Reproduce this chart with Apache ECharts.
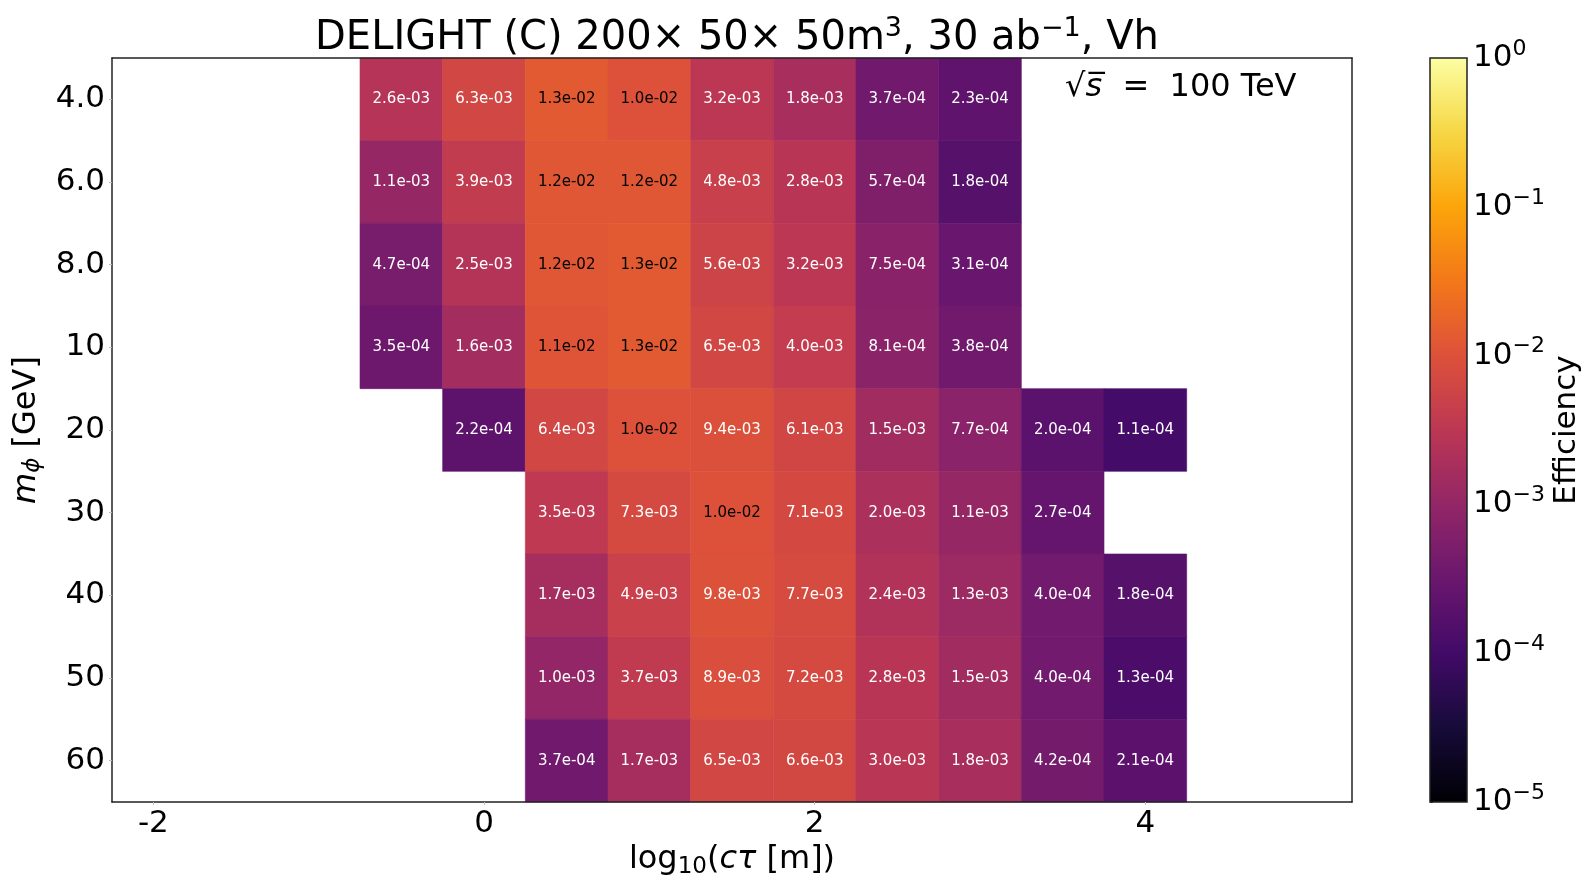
<!DOCTYPE html>
<html>
<head>
<meta charset="utf-8">
<script src="https://cdn.jsdelivr.net/npm/echarts@6/dist/echarts.min.js"></script>
<style>
html,body{margin:0;padding:0;background:#fff;}
#chart{width:1595px;height:890px;}
</style>
</head>
<body>
<div id="chart"></div>
<script>
// ---- data ----
const massLabels = ['4.0', '6.0', '8.0', '10', '20', '30', '40', '50', '60'];
const logCtau = [-0.5, 0.0, 0.5, 1.0, 1.5, 2.0, 2.5, 3.0, 3.5, 4.0];
const eff_m4  = [2.6e-3, 6.3e-3, 1.3e-2, 1.0e-2, 3.2e-3, 1.8e-3, 3.7e-4, 2.3e-4, null, null];
const eff_m6  = [1.1e-3, 3.9e-3, 1.2e-2, 1.2e-2, 4.8e-3, 2.8e-3, 5.7e-4, 1.8e-4, null, null];
const eff_m8  = [4.7e-4, 2.5e-3, 1.2e-2, 1.3e-2, 5.6e-3, 3.2e-3, 7.5e-4, 3.1e-4, null, null];
const eff_m10 = [3.5e-4, 1.6e-3, 1.1e-2, 1.3e-2, 6.5e-3, 4.0e-3, 8.1e-4, 3.8e-4, null, null];
const eff_m20 = [null, 2.2e-4, 6.4e-3, 1.0e-2, 9.4e-3, 6.1e-3, 1.5e-3, 7.7e-4, 2.0e-4, 1.1e-4];
const eff_m30 = [null, null, 3.5e-3, 7.3e-3, 1.0e-2, 7.1e-3, 2.0e-3, 1.1e-3, 2.7e-4, null];
const eff_m40 = [null, null, 1.7e-3, 4.9e-3, 9.8e-3, 7.7e-3, 2.4e-3, 1.3e-3, 4.0e-4, 1.8e-4];
const eff_m50 = [null, null, 1.0e-3, 3.7e-3, 8.9e-3, 7.2e-3, 2.8e-3, 1.5e-3, 4.0e-4, 1.3e-4];
const eff_m60 = [null, null, 3.7e-4, 1.7e-3, 6.5e-3, 6.6e-3, 3.0e-3, 1.8e-3, 4.2e-4, 2.1e-4];
const effRows = [eff_m4, eff_m6, eff_m8, eff_m10, eff_m20, eff_m30, eff_m40, eff_m50, eff_m60];
const xTickValues = [-2, 0, 2, 4];
const colorbarLogRange = [-5, 0];

// ---- inferno colormap ----
const inferno = ['#000004','#160b39','#420a68','#6a176e','#932667','#bc3754','#dd513a','#f37819','#fca50a','#f6d746','#fcffa4'];
function hex2rgb(h){return [parseInt(h.substr(1,2),16),parseInt(h.substr(3,2),16),parseInt(h.substr(5,2),16)];}
const infRGB = inferno.map(hex2rgb);
function cmap(t){
  t = Math.max(0, Math.min(1, t));
  const f = t * (infRGB.length - 1);
  const i = Math.min(Math.floor(f), infRGB.length - 2);
  const r = f - i;
  const a = infRGB[i], b = infRGB[i + 1];
  return 'rgb(' + a.map((v, k) => Math.round(v + (b[k] - v) * r)).join(',') + ')';
}
function colorOf(v){
  const lv = Math.log10(v);
  return cmap((lv - colorbarLogRange[0]) / (colorbarLogRange[1] - colorbarLogRange[0]));
}
function fmt(v){
  let e = Math.floor(Math.log10(v));
  let ms = (v / Math.pow(10, e)).toFixed(1);
  if (parseFloat(ms) >= 10) { e += 1; ms = (v / Math.pow(10, e)).toFixed(1); }
  const sign = e < 0 ? '-' : '+';
  const ae = Math.abs(e);
  return ms + 'e' + sign + (ae < 10 ? '0' : '') + ae;
}

const cellData = [];
effRows.forEach((row, yi) => {
  row.forEach((v, xi) => {
    if (v !== null) cellData.push([logCtau[xi], yi, v]);
  });
});

const FONT = 'DejaVu Sans';
const chart = echarts.init(document.getElementById('chart'), null, {renderer: 'canvas'});

function cbLabel(v){
  const e = Math.round(v);
  const s = (e < 0 ? '−' : '') + Math.abs(e);
  return '{b|10}{s|' + s + '}';
}

const option = {
  animation: false,
  backgroundColor: '#fff',
  title: [{
    text: '{t|DELIGHT (C) 200× 50× 50m}{s|3}{t|, 30 ab}{s|−1}{t|, Vh}',
    left: 732, top: 10, textAlign: 'center',
    textStyle: {
      fontWeight: 'normal',
      rich: {
        t: {fontFamily: FONT, fontSize: 40, fontWeight: 'normal', color: '#000'},
        s: {fontFamily: FONT, fontSize: 27, fontWeight: 'normal', color: '#000', padding: [0, 0, 20, 0]}
      }
    }
  }, {
    text: '{r|√}{i|s̅}{t|  =  100 TeV}',
    left: 1060, top: 67,
    textStyle: {
      fontWeight: 'normal',
      rich: {
        r: {fontFamily: FONT, fontSize: 32, fontWeight: 'normal', color: '#000'},
        i: {fontFamily: FONT, fontSize: 32, fontWeight: 'normal', fontStyle: 'italic', color: '#000'},
        t: {fontFamily: FONT, fontSize: 32, fontWeight: 'normal', color: '#000'}
      }
    }
  }],
  grid: [
    {left: 112, top: 58, width: 1240, height: 744},
    {left: 1430, top: 58, width: 37, height: 744}
  ],
  xAxis: [{
    gridIndex: 0, type: 'value', min: -2.25, max: 5.25, z: 10,
    name: '{n|log}{sub|10}{n|(}{i|cτ}{n| [m])}',
    nameLocation: 'middle', nameGap: 39,
    nameTextStyle: {
      rich: {
        n: {fontFamily: FONT, fontSize: 32, color: '#000'},
        i: {fontFamily: FONT, fontSize: 32, fontStyle: 'italic', color: '#000'},
        sub: {fontFamily: FONT, fontSize: 23, color: '#000', padding: [14, 0, 0, 0]}
      }
    },
    axisLine: {show: true, onZero: false, lineStyle: {color: '#222', width: 1.5}},
    axisTick: {show: true, length: 3, customValues: xTickValues, lineStyle: {color: '#bbb'}},
    axisLabel: {customValues: xTickValues, fontFamily: FONT, fontSize: 31, color: '#000', margin: 6,
      formatter: v => String(v)},
    splitLine: {show: false}
  }, {
    gridIndex: 0, type: 'value', min: -2.25, max: 5.25, position: 'top', z: 10,
    axisLine: {show: true, onZero: false, lineStyle: {color: '#222', width: 1.5}},
    axisTick: {show: false}, axisLabel: {show: false}, splitLine: {show: false}
  }, {
    gridIndex: 1, type: 'value', min: 0, max: 1, show: false
  }],
  yAxis: [{
    gridIndex: 0, type: 'category', data: massLabels, inverse: true, z: 10,
    name: '{i|m}{sub|ϕ}{n| [GeV]}',
    nameLocation: 'middle', nameGap: 64, nameRotate: 90,
    nameTextStyle: {
      rich: {
        n: {fontFamily: FONT, fontSize: 32, color: '#000'},
        i: {fontFamily: FONT, fontSize: 32, fontStyle: 'italic', color: '#000'},
        sub: {fontFamily: FONT, fontSize: 23, fontStyle: 'italic', color: '#000', padding: [14, 0, 0, 0]}
      }
    },
    axisLine: {show: true, onZero: false, lineStyle: {color: '#222', width: 1.5}},
    axisTick: {show: true, length: 3, alignWithLabel: true, lineStyle: {color: '#bbb'}},
    axisLabel: {fontFamily: FONT, fontSize: 31, color: '#000', margin: 7},
    splitLine: {show: false}
  }, {
    gridIndex: 0, type: 'category', data: massLabels, inverse: true, position: 'right', z: 10,
    axisLine: {show: true, onZero: false, lineStyle: {color: '#222', width: 1.5}},
    axisTick: {show: false}, axisLabel: {show: false}, splitLine: {show: false}
  }, {
    gridIndex: 1, type: 'value', min: colorbarLogRange[0], max: colorbarLogRange[1], interval: 1,
    position: 'right',
    name: 'Efficiency', nameLocation: 'middle', nameGap: 84, nameRotate: 90,
    nameTextStyle: {fontFamily: FONT, fontSize: 31, color: '#000'},
    axisLine: {show: false},
    axisTick: {show: true, length: 3, lineStyle: {color: '#444'}},
    axisLabel: {
      margin: 6, formatter: cbLabel,
      rich: {
        b: {fontFamily: FONT, fontSize: 31, color: '#000'},
        s: {fontFamily: FONT, fontSize: 22, color: '#000', padding: [0, 0, 18, 0]}
      }
    },
    splitLine: {show: false}
  }],
  series: [{
    type: 'custom',
    xAxisIndex: 0, yAxisIndex: 0,
    data: cellData,
    renderItem: function (params, api) {
      const x = api.value(0), yi = api.value(1), v = api.value(2);
      const c = api.coord([x, yi]);
      const sz = api.size([0.5, 1]);
      const col = colorOf(v);
      return {
        type: 'group',
        children: [{
          type: 'rect',
          shape: {x: c[0] - sz[0] / 2, y: c[1] - sz[1] / 2, width: sz[0], height: sz[1]},
          style: {fill: col, stroke: col, lineWidth: 0.6}
        }, {
          type: 'text',
          style: {
            text: fmt(v), x: c[0], y: c[1], align: 'center', verticalAlign: 'middle',
            fill: v >= 1e-2 ? '#000' : '#fff', fontFamily: FONT, fontSize: 15
          }
        }]
      };
    }
  }, {
    type: 'custom',
    xAxisIndex: 2, yAxisIndex: 2,
    data: [[0, colorbarLogRange[0], 1, colorbarLogRange[1]]],
    renderItem: function (params, api) {
      const p0 = api.coord([api.value(0), api.value(3)]);
      const p1 = api.coord([api.value(2), api.value(1)]);
      const stops = inferno.map((c, i) => ({offset: i / (inferno.length - 1), color: c}));
      return {
        type: 'rect',
        shape: {x: p0[0], y: p0[1], width: p1[0] - p0[0], height: p1[1] - p0[1]},
        style: {
          fill: new echarts.graphic.LinearGradient(0, 1, 0, 0, stops),
          stroke: '#222', lineWidth: 1.5
        }
      };
    }
  }]
};
chart.setOption(option);
</script>
</body>
</html>
